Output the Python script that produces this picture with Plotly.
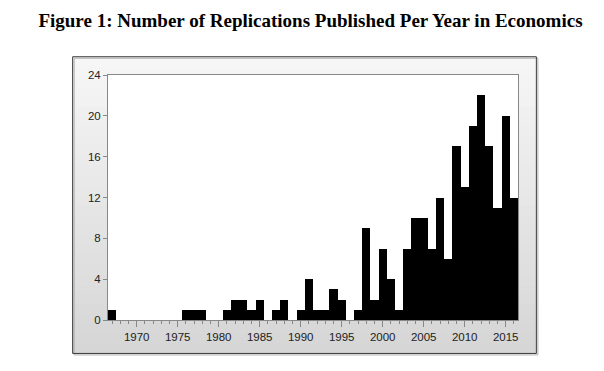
import plotly.graph_objects as go

years = list(range(1967, 2017))
counts = [1, 0, 0, 0, 0, 0, 0, 0, 0, 1,   # 1967-1976
          1, 1, 0, 0, 1, 2, 2, 1, 2, 0,   # 1977-1986
          1, 2, 0, 1, 4, 1, 1, 3, 2, 0,   # 1987-1996
          1, 9, 2, 7, 4, 1, 7, 10, 10, 7, # 1997-2006
          12, 6, 17, 13, 19, 22, 17, 11, 20, 12]  # 2007-2016
ytick_vals = [0, 4, 8, 12, 16, 20, 24]
xtick_vals = [1970, 1975, 1980, 1985, 1990, 1995, 2000, 2005, 2010, 2015]
title_text = "Figure 1: Number of Replications Published Per Year in Economics"

W, H = 604, 371
PL, PR, PT, PB = 107.7, 518.3, 75.0, 320.5

def px_x(x):
    return (x - PL) / (PR - PL)

def px_y(y):
    return (PB - y) / (PB - PT)

fig = go.Figure()
fig.add_trace(go.Bar(x=years, y=counts, width=1.0,
                     marker=dict(color="black", line=dict(width=0)),
                     hoverinfo="x+y"))

shapes = []
# gradient frame background
fx0, fx1, fy0, fy1 = 72.3, 536.7, 56.7, 354.0
n = 30
c_top, c_bot = (246, 246, 246), (214, 214, 214)
for i in range(n):
    t = i / (n - 1)
    c = tuple(int(round(c_top[k] + (c_bot[k] - c_top[k]) * t)) for k in range(3))
    ya = fy0 + (fy1 - fy0) * i / n
    yb = fy0 + (fy1 - fy0) * (i + 1) / n
    shapes.append(dict(type="rect", xref="paper", yref="paper",
                       x0=px_x(fx0), x1=px_x(fx1), y0=px_y(ya), y1=px_y(yb + 0.5),
                       fillcolor="rgb(%d,%d,%d)" % c, line=dict(width=0), layer="below"))
# shadow
shapes.append(dict(type="rect", xref="paper", yref="paper",
                   x0=px_x(fx0 + 1.5), x1=px_x(fx1 + 1.5), y0=px_y(fy1 + 1.5), y1=px_y(fy0 + 1.5),
                   fillcolor="rgba(0,0,0,0)", line=dict(width=1, color="#b0b0b0"), layer="below"))
# frame border
shapes.append(dict(type="rect", xref="paper", yref="paper",
                   x0=px_x(fx0), x1=px_x(fx1), y0=px_y(fy1), y1=px_y(fy0),
                   fillcolor="rgba(0,0,0,0)", line=dict(width=1, color="#3a3a3a"), layer="below"))
# white plot area
shapes.append(dict(type="rect", xref="paper", yref="paper", x0=0, x1=1, y0=0, y1=1,
                   fillcolor="white", line=dict(width=0), layer="below"))

fig.update_layout(
    width=W, height=H,
    margin=dict(l=PL, r=W - PR, t=PT, b=H - PB, pad=0),
    paper_bgcolor="white", plot_bgcolor="rgba(0,0,0,0)",
    showlegend=False, bargap=0,
    shapes=shapes,
    title=dict(text="<b>" + title_text + "</b>", x=px_x(310.5), xref="paper", xanchor="center",
               y=1 - 20.5 / H, yref="container", yanchor="middle",
               font=dict(family="Liberation Serif, Times New Roman, serif", size=19, color="black")),
    xaxis=dict(range=[1966.5, 2016.5], tickmode="array", tickvals=xtick_vals,
               ticks="outside", ticklen=6, tickcolor="#888888", tickwidth=1,
               minor=dict(dtick=1, tick0=1967, ticks="outside", ticklen=3, tickcolor="#888888", tickwidth=1),
               showline=True, linecolor="#888888", linewidth=1, mirror=True,
               showgrid=False, zeroline=False,
               tickfont=dict(family="Liberation Sans, Arial, sans-serif", size=11.5, color="#222222")),
    yaxis=dict(range=[0, 24], tickmode="array", tickvals=ytick_vals,
               ticks="outside", ticklen=4, tickcolor="#888888", tickwidth=1,
               showline=True, linecolor="#888888", linewidth=1, mirror=True,
               showgrid=False, zeroline=False,
               tickfont=dict(family="Liberation Sans, Arial, sans-serif", size=11.5, color="#222222")),
)

fig.write_html("out.html", config={"displayModeBar": False},
               post_script="document.body.style.margin='0';document.body.style.overflow='hidden';")
